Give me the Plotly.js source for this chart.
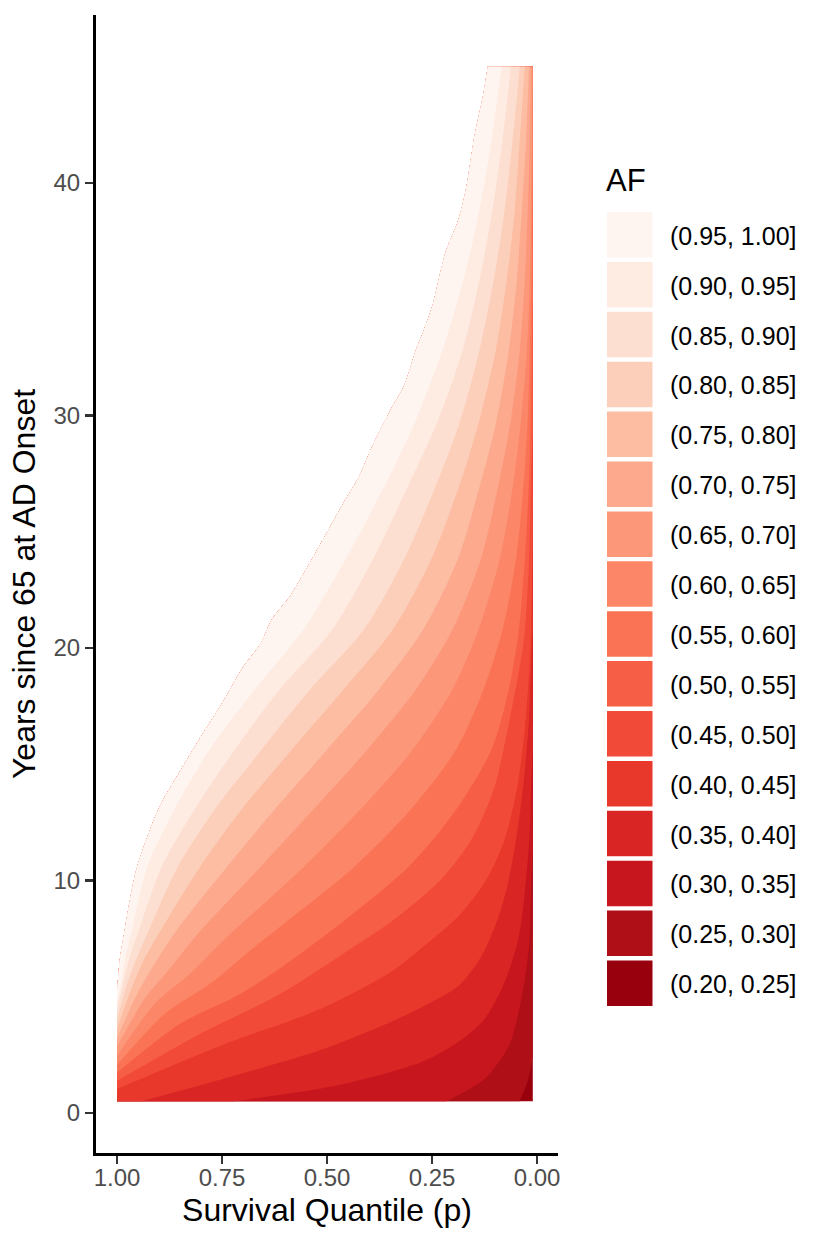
<!DOCTYPE html>
<html><head><meta charset="utf-8">
<script src="https://cdn.plot.ly/plotly-3.0.1.min.js"></script>
<style>html,body{margin:0;padding:0;background:#fff}</style>
</head><body><div id="chart" style="width:830px;height:1246px"></div>
<script>
// ---- data ----
const bandLabels = ["(0.20, 0.25]","(0.25, 0.30]","(0.30, 0.35]","(0.35, 0.40]","(0.40, 0.45]","(0.45, 0.50]","(0.50, 0.55]","(0.55, 0.60]","(0.60, 0.65]","(0.65, 0.70]","(0.70, 0.75]","(0.75, 0.80]","(0.80, 0.85]","(0.85, 0.90]","(0.90, 0.95]","(0.95, 1.00]"];
const bandColors = ["#99000D","#AF0F16","#C8161E","#D92524","#E8382B","#F24A38","#F65F46","#FA7355","#FB8668","#FC977A","#FCA98E","#FCBDA3","#FCCFBB","#FDDFD2","#FEEBE2","#FFF5F0"];
const xTickVals = [1, 0.75, 0.5, 0.25, 0];
const xTickText = ["1.00","0.75","0.50","0.25","0.00"];
const yTickVals = [0, 10, 20, 30, 40];

// data extent (survival quantile p, years)
const pMin = 0.01, pMax = 1.0, yMin = 0.5, yMax = 45;

// upper edge of the computed region (the step boundary)
const stairX = [1.000,0.993,0.983,0.971,0.952,0.899,0.851,0.799,0.748,0.700,0.659,0.631,0.588,0.540,0.492,0.460,0.427,0.388,0.348,0.317,0.288,0.269,0.247,0.218,0.187,0.168,0.149,0.127,0.117];
const stairY = [5.11,6.62,7.69,8.98,10.57,13.15,14.65,16.20,17.66,19.16,20.15,21.22,22.21,23.67,25.22,26.25,27.24,28.83,30.25,31.24,32.82,33.68,34.84,36.99,38.41,39.83,41.98,43.87,45.0];

// contour lines of AF (x = p, y = years)
const c25X = [0.041,0.022,0.0144,0.01];
const c25Y = [0.5,1.37,1.98,2.41];
const c30X = [0.216,0.125,0.067,0.036,0.019,0.0144,0.01];
const c30Y = [0.5,1.46,2.88,5.03,7.18,9.62,11.34];
const c35X = [0.719,0.492,0.348,0.269,0.187,0.125,0.077,0.043,0.026,0.017,0.0144,0.01];
const c35Y = [0.5,1.12,1.76,2.23,3.05,4.04,5.63,7.60,10.05,12.20,13.92,15.64];
const c40X = [0.942,0.748,0.508,0.348,0.269,0.187,0.132,0.091,0.067,0.046,0.031,0.019,0.0144,0.01];
const c40Y = [0.5,1.46,2.75,3.91,4.60,5.46,6.75,8.46,10.05,12.20,14.35,16.93,19.08,20.79];
const c45X = [1.000,0.755,0.516,0.348,0.269,0.187,0.120,0.077,0.048,0.029,0.017,0.012,0.01];
const c45Y = [1.03,2.88,4.47,6.06,7.18,8.46,10.05,11.77,13.92,16.50,19.51,22.51,24.66];
const c50X = [1.000,0.803,0.612,0.444,0.348,0.228,0.156,0.103,0.065,0.031,0.019,0.0144,0.01];
const c50Y = [1.37,3.39,5.11,7.05,8.21,10.05,11.77,13.92,16.93,20.37,23.80,27.24,29.39];
const c55X = [1.000,0.851,0.707,0.564,0.307,0.192,0.108,0.067,0.043,0.029,0.019,0.0144,0.01];
const c55Y = [1.72,3.82,5.11,6.83,10.57,13.06,15.64,18.22,20.79,23.80,27.24,30.68,34.97];
const c60X = [1.000,0.887,0.779,0.664,0.436,0.300,0.192,0.127,0.082,0.050,0.031,0.022,0.0167,0.012,0.01];
const c60Y = [2.06,4.25,5.54,7.26,10.57,13.06,15.64,18.22,20.79,23.80,27.24,29.82,32.82,37.12,41.42];
const c65X = [1.000,0.911,0.827,0.743,0.556,0.420,0.295,0.201,0.139,0.089,0.055,0.038,0.024,0.017,0.0144,0.012,0.0108];
const c65Y = [2.45,4.68,5.97,7.48,10.57,13.06,15.64,18.22,20.79,23.80,27.24,29.82,32.82,35.83,38.84,41.85,45];
const c70X = [1.000,0.935,0.875,0.808,0.659,0.532,0.403,0.288,0.201,0.134,0.089,0.062,0.041,0.029,0.022,0.017,0.0144];
const c70Y = [2.84,4.90,6.19,7.69,10.57,13.06,15.64,18.22,20.79,23.80,27.24,29.82,32.82,35.83,38.84,41.85,45];
const c75X = [1.000,0.952,0.911,0.856,0.739,0.624,0.499,0.376,0.271,0.189,0.132,0.096,0.067,0.048,0.036,0.026,0.019];
const c75Y = [3.22,5.11,6.40,7.91,10.57,13.06,15.64,18.22,20.79,23.80,27.24,29.82,32.82,35.83,38.84,41.85,45];
const c80X = [1.000,0.966,0.935,0.894,0.803,0.703,0.583,0.460,0.343,0.252,0.180,0.137,0.098,0.072,0.053,0.041,0.029];
const c80Y = [3.61,5.33,6.62,7.91,10.57,13.06,15.64,18.22,20.79,23.80,27.24,29.82,32.82,35.83,38.84,41.85,45];
const c85X = [1.000,0.976,0.954,0.923,0.856,0.767,0.655,0.540,0.412,0.317,0.235,0.182,0.137,0.103,0.077,0.058,0.041];
const c85Y = [4.00,5.54,6.62,7.91,10.57,13.06,15.64,18.22,20.79,23.80,27.24,29.82,32.82,35.83,38.84,41.85,45];
const c90X = [1.000,0.986,0.971,0.947,0.894,0.815,0.719,0.612,0.487,0.391,0.300,0.235,0.177,0.137,0.106,0.082,0.062];
const c90Y = [4.38,5.54,6.62,7.91,10.57,13.06,15.64,18.22,20.79,23.80,27.24,29.82,32.82,35.83,38.84,41.85,45];
const c95X = [1.000,0.990,0.981,0.964,0.928,0.863,0.779,0.671,0.556,0.456,0.355,0.288,0.225,0.175,0.137,0.108,0.084];
const c95Y = [4.77,5.54,6.62,7.91,10.57,13.06,15.64,18.22,20.79,23.80,27.24,29.82,32.82,35.83,38.84,41.85,45];

// ---- build filled regions (painter's order: region above each contour) ----
const contourList = [[c25X,c25Y],[c30X,c30Y],[c35X,c35Y],[c40X,c40Y],[c45X,c45Y],[c50X,c50Y],[c55X,c55Y],[c60X,c60Y],[c65X,c65Y],[c70X,c70Y],[c75X,c75Y],[c80X,c80Y],[c85X,c85Y],[c90X,c90Y],[c95X,c95Y]];

// a repeated vertex keeps a sharp corner when the path is spline-smoothed
function corner(xs, ys, x, y){ xs.push(x, x); ys.push(y, y); }
function appendStairDown(xs, ys){
  const n = stairX.length;
  corner(xs, ys, stairX[n-1], stairY[n-1]);
  for (let i = n - 2; i >= 1; i--) { xs.push(stairX[i]); ys.push(stairY[i]); }
  corner(xs, ys, stairX[0], stairY[0]);
}
function regionAbove(cx, cy){
  const n = cx.length;
  const xs = [cx[0]], ys = [cy[0]];
  for (let i = 0; i < n; i++) { xs.push(cx[i]); ys.push(cy[i]); }
  corner(xs, ys, cx[n-1], cy[n-1]);
  if (cy[n-1] < yMax - 1e-9) corner(xs, ys, pMin, yMax);
  appendStairDown(xs, ys);
  if (cx[0] < pMax - 1e-9) corner(xs, ys, pMax, yMin);
  corner(xs, ys, cx[0], cy[0]);
  return [xs, ys];
}

const traces = [];
(function(){
  const xs = [], ys = [];
  corner(xs, ys, pMax, yMin); corner(xs, ys, pMin, yMin); corner(xs, ys, pMin, yMax);
  appendStairDown(xs, ys);
  corner(xs, ys, pMax, yMin);
  traces.push({type:'scatter', mode:'lines', x:xs, y:ys, fill:'toself', fillcolor:bandColors[0], line:{width:0, color:bandColors[0], shape:'spline', smoothing:0.8}, hoverinfo:'skip', showlegend:false});
})();
contourList.forEach((c, i) => {
  const [xs, ys] = regionAbove(c[0], c[1]);
  traces.push({type:'scatter', mode:'lines', x:xs, y:ys, fill:'toself', fillcolor:bandColors[i+1], line:{width:0, color:bandColors[i+1], shape:'spline', smoothing:0.8}, hoverinfo:'skip', showlegend:false});
});

// ---- layout ----
const W = 830, H = 1246, mL = 96, mR = 272, mT = 15, mB = 93;
const pw = W - mL - mR, ph = H - mT - mB;
const PX = px => (px - mL) / pw;
const PY = py => (H - mB - py) / ph;
const FONT = 'Liberation Sans, Arial, Helvetica, sans-serif';

const shapes = [], annotations = [];
annotations.push({xref:'paper', yref:'paper', x:PX(604), y:PY(181), xanchor:'left', yanchor:'middle', text:'AF', showarrow:false, font:{family:FONT, size:31, color:'#000'}});
for (let k = 0; k < bandLabels.length; k++) {
  const idx = bandLabels.length - 1 - k; // top = lightest
  const top = 212 + 49.9 * k, bot = top + 45.5;
  shapes.push({type:'rect', xref:'paper', yref:'paper', x0:PX(607), x1:PX(652.5), y0:PY(bot), y1:PY(top), fillcolor:bandColors[idx], line:{width:0}, layer:'above'});
  annotations.push({xref:'paper', yref:'paper', x:PX(668), y:PY((top+bot)/2 + 1), xanchor:'left', yanchor:'middle', text:bandLabels[idx], showarrow:false, font:{family:FONT, size:25, color:'#000'}});
}

const layout = {
  width: W, height: H,
  margin: {l:mL, r:mR, t:mT, b:mB, pad:0},
  paper_bgcolor:'#fff', plot_bgcolor:'#fff',
  showlegend:false,
  font:{family:FONT},
  xaxis:{
    range:[1.05, -0.05], tickvals:xTickVals, ticktext:xTickText,
    showgrid:false, zeroline:false, showline:true, linecolor:'#000', linewidth:3,
    ticks:'outside', ticklen:8, tickwidth:2.5, tickcolor:'#333',
    ticklabelstandoff:-7,
    tickfont:{family:FONT, size:24, color:'#4D4D4D'},
    title:{text:'Survival Quantile (p)', font:{family:FONT, size:32, color:'#000'}, standoff:9},
    automargin:false
  },
  yaxis:{
    range:[-1.725, 47.225], tickvals:yTickVals,
    showgrid:false, zeroline:false, showline:true, linecolor:'#000', linewidth:3,
    ticks:'outside', ticklen:8, tickwidth:2.5, tickcolor:'#333',
    tickfont:{family:FONT, size:24, color:'#4D4D4D'},
    title:{text:'Years since 65 at AD Onset', font:{family:FONT, size:32, color:'#000'}, standoff:9},
    automargin:false
  },
  shapes: shapes,
  annotations: annotations
};

Plotly.newPlot('chart', traces, layout, {displayModeBar:false, staticPlot:true});
</script></body></html>
